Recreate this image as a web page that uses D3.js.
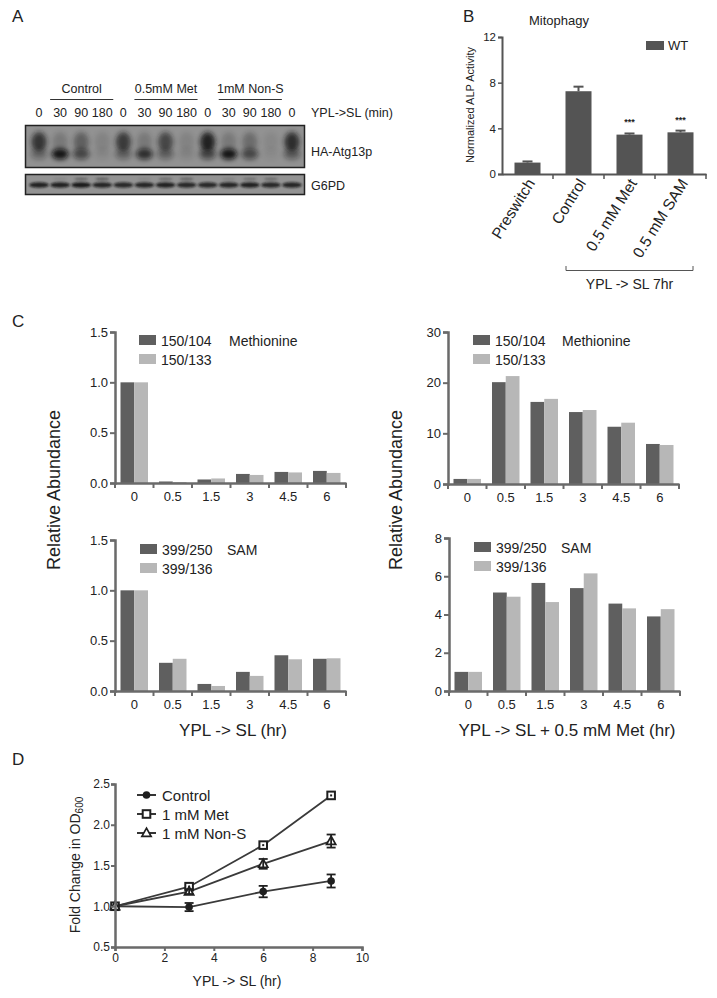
<!DOCTYPE html>
<html><head><meta charset="utf-8">
<script src="https://cdn.jsdelivr.net/npm/d3@7"></script>
<style>
body{margin:0;background:#fff;}
svg{font-family:"Liberation Sans",Arial,Helvetica,sans-serif;}
</style></head>
<body>
<svg id="fig" width="717" height="998"></svg>
<script>
// ---------- DATA ----------
// Panel A (western blot)
const blotGroups = ["Control", "0.5mM Met", "1mM Non-S"];
const blotLanes = ["0","30","90","180","0","30","90","180","0","30","90","180","0"];
const atgUpper = [0.75,0.2,0.4,0.12,0.7,0.2,0.6,0.12,0.9,0.2,0.3,0.08,0.8];
const atgLower = [0.3,0.95,0.55,0.08,0.35,0.75,0.35,0.1,0.55,0.95,0.55,0.05,0.4];
const g6pd = [0.85,0.85,0.9,0.82,0.8,0.82,0.85,0.8,0.8,0.82,0.85,0.8,0.82];
const g6pdUpper = [0,0.1,0.4,0.45,0,0.1,0.35,0.4,0,0.15,0.3,0.35,0];

// Panel B
const mitoCats = ["Preswitch","Control","0.5 mM Met","0.5 mM SAM"];
const mitoVals = [1.0, 7.25, 3.45, 3.65];
const mitoErr = [0.1, 0.4, 0.1, 0.15];
const mitoStars = ["", "", "***", "***"];
const mitoTicks = [0,4,8,12];

// Panel C
const timeCats = ["0","0.5","1.5","3","4.5","6"];
const metSL_104 = [1.0, 0.015, 0.035, 0.09, 0.11, 0.12];
const metSL_133 = [1.0, 0.01, 0.045, 0.08, 0.105, 0.10];
const metMet_104 = [1.0, 20.1, 16.2, 14.2, 11.3, 7.9];
const metMet_133 = [1.0, 21.3, 16.8, 14.6, 12.1, 7.7];
const samSL_250 = [1.0, 0.28, 0.07, 0.19, 0.355, 0.32];
const samSL_136 = [1.0, 0.32, 0.05, 0.15, 0.315, 0.325];
const samMet_250 = [1.0, 5.15, 5.65, 5.38, 4.57, 3.9];
const samMet_136 = [1.0, 4.93, 4.65, 6.15, 4.32, 4.28];

// Panel D
const odTimes = [0, 3, 6, 8.75];
const odControl = [1.0, 0.99, 1.18, 1.31];
const odControlErr = [0.02, 0.05, 0.07, 0.08];
const odMet = [1.0, 1.24, 1.75, 2.36];
const odMetErr = [0.01, 0.02, 0.02, 0.02];
const odNonS = [1.0, 1.18, 1.52, 1.80];
const odNonSErr = [0.01, 0.03, 0.06, 0.08];

// ---------- DRAW ----------
const svg = d3.select("#fig");
const FONT = '"Liberation Sans",Arial,Helvetica,sans-serif';
const dark = "#5f5f5f", light = "#b7b7b7", axisC = "#6a6a6a";

function label(t, x, y){ svg.append("text").attr("x",x).attr("y",y).attr("font-size",17).attr("fill","#222").text(t); }
label("A", 12, 22); label("B", 463, 22); label("C", 12, 327); label("D", 12, 765);

// ===== Panel A =====
const defs = svg.append("defs");
defs.append("filter").attr("id","blur").attr("x","-50%").attr("y","-50%").attr("width","200%").attr("height","200%")
  .append("feGaussianBlur").attr("stdDeviation",2.4);
defs.append("filter").attr("id","blur2").attr("x","-50%").attr("y","-50%").attr("width","200%").attr("height","200%")
  .append("feGaussianBlur").attr("stdDeviation",1.2);
defs.append("clipPath").attr("id","clipA1").append("rect").attr("x",26).attr("y",126).attr("width",278).attr("height",41);
defs.append("clipPath").attr("id","clipA2").append("rect").attr("x",26).attr("y",175).attr("width",278).attr("height",19);

const laneX = d3.scaleBand().domain(d3.range(blotLanes.length)).range([28.5, 302.5]);
const lc = i => laneX(i) + laneX.bandwidth()/2;
const gA = svg.append("g").attr("font-size",12.5).attr("fill","#222");
blotGroups.forEach((g,k)=>{
  const a = lc(1+4*k) - 10, b = lc(3+4*k) + 11;
  gA.append("text").attr("x",(a+b)/2).attr("y",93).attr("text-anchor","middle").text(g);
  gA.append("line").attr("x1",a).attr("x2",b).attr("y1",99.5).attr("y2",99.5).attr("stroke","#333").attr("stroke-width",1);
});
blotLanes.forEach((l,i)=>{
  gA.append("text").attr("x",lc(i)).attr("y",117).attr("text-anchor","middle").text(l);
});
gA.append("text").attr("x",311).attr("y",117).text("YPL->SL (min)");
gA.append("rect").attr("x",25.5).attr("y",125.5).attr("width",279).attr("height",42).attr("fill","#929292");
const b1 = gA.append("g").attr("clip-path","url(#clipA1)");
b1.selectAll(".up").data(atgUpper).join("ellipse")
  .attr("cx",(d,i)=>lc(i)).attr("cy",142).attr("rx",7.5).attr("ry",10)
  .attr("fill","#151515").attr("opacity",d=>d).attr("filter","url(#blur)");
b1.selectAll(".lo").data(atgLower).join("ellipse")
  .attr("cx",(d,i)=>lc(i)).attr("cy",154).attr("rx",8.5).attr("ry",5.5)
  .attr("fill","#0a0a0a").attr("opacity",d=>d).attr("filter","url(#blur)");
gA.append("rect").attr("x",25.5).attr("y",125.5).attr("width",279).attr("height",42).attr("fill","none").attr("stroke","#222").attr("stroke-width",1.5);
gA.append("rect").attr("x",25.5).attr("y",174.5).attr("width",279).attr("height",20).attr("fill","#939393");
const b2 = gA.append("g").attr("clip-path","url(#clipA2)");
b2.selectAll(".g").data(g6pd).join("ellipse")
  .attr("cx",(d,i)=>lc(i)).attr("cy",185).attr("rx",10).attr("ry",2.8)
  .attr("fill","#111").attr("opacity",d=>d).attr("filter","url(#blur2)");
b2.selectAll(".gu").data(g6pdUpper).join("ellipse")
  .attr("cx",(d,i)=>lc(i)).attr("cy",179).attr("rx",7).attr("ry",1.5)
  .attr("fill","#222").attr("opacity",d=>d).attr("filter","url(#blur2)");
gA.append("rect").attr("x",25.5).attr("y",174.5).attr("width",279).attr("height",20).attr("fill","none").attr("stroke","#222").attr("stroke-width",1.5);
gA.append("text").attr("x",311).attr("y",156).text("HA-Atg13p");
gA.append("text").attr("x",311).attr("y",190).text("G6PD");

// ===== Panel B =====
{
  const x = d3.scaleBand().domain(mitoCats).range([502, 706]).paddingInner(0.49).paddingOuter(0.245);
  const y = d3.scaleLinear().domain([0,12]).range([174, 37]);
  const g = svg.append("g");
  g.append("text").attr("x",559).attr("y",25).attr("text-anchor","middle").attr("font-size",13).attr("fill","#222").text("Mitophagy");
  g.selectAll("rect.bar").data(mitoVals).join("rect").attr("class","bar")
    .attr("x",(d,i)=>x(mitoCats[i])).attr("width",x.bandwidth())
    .attr("y",d=>y(d)).attr("height",d=>y(0)-y(d)).attr("fill","#545454");
  mitoVals.forEach((v,i)=>{
    const cx = x(mitoCats[i]) + x.bandwidth()/2;
    g.append("line").attr("x1",cx).attr("x2",cx).attr("y1",y(v)).attr("y2",y(v+mitoErr[i])).attr("stroke","#545454").attr("stroke-width",2);
    g.append("line").attr("x1",cx-5).attr("x2",cx+5).attr("y1",y(v+mitoErr[i])).attr("y2",y(v+mitoErr[i])).attr("stroke","#545454").attr("stroke-width",2);
    if(mitoStars[i]) g.append("text").attr("x",cx).attr("y",y(v+mitoErr[i])-8).attr("text-anchor","middle").attr("font-size",9).attr("font-weight","bold").attr("fill","#222").text(mitoStars[i]);
    g.append("text").attr("transform",`translate(${cx+8},${183}) rotate(-58)`).attr("text-anchor","end")
      .attr("font-size",15.5).attr("fill","#222").text(mitoCats[i]);
  });
  const ya = g.append("g").attr("transform","translate(502,0)")
    .call(d3.axisLeft(y).tickValues(mitoTicks).tickSize(4).tickPadding(2));
  ya.select(".domain").attr("stroke","#555").attr("stroke-width",2);
  ya.selectAll(".tick line").attr("stroke","#555").attr("stroke-width",1.5);
  ya.selectAll("text").attr("font-size",11.5).attr("fill","#222").attr("font-family",FONT);
  const xa = g.append("g").attr("transform","translate(0,174)")
    .call(d3.axisBottom(x).tickSize(0).tickFormat(""));
  xa.select(".domain").attr("stroke","#555").attr("stroke-width",2);
  mitoCats.forEach((c,i)=>{
    const bx = x(c) + x.bandwidth() + x.step()*x.paddingInner()/2;
    g.append("line").attr("x1",bx).attr("x2",bx).attr("y1",174).attr("y2",179).attr("stroke","#555").attr("stroke-width",1.5);
  });
  g.append("text").attr("transform","translate(474,105) rotate(-90)").attr("text-anchor","middle")
    .attr("font-size",11).attr("fill","#222").text("Normalized ALP Activity");
  g.append("rect").attr("x",646).attr("y",41).attr("width",18).attr("height",9).attr("fill","#545454");
  g.append("text").attr("x",668).attr("y",50).attr("font-size",13).attr("fill","#222").text("WT");
  const bx1 = 566, bx2 = 693;
  g.append("path").attr("d",`M${bx1},266V270.5H${bx2}V266`).attr("fill","none").attr("stroke","#555").attr("stroke-width",1);
  g.append("text").attr("x",(bx1+bx2)/2).attr("y",289).attr("text-anchor","middle").attr("font-size",14).attr("fill","#222").text("YPL -> SL 7hr");
}

// ===== Panel C =====
function barChart(opt){
  const x = d3.scaleBand().domain(timeCats).range([opt.x0, opt.x1]);
  const y = d3.scaleLinear().domain([0, opt.ymax]).range([opt.y0, opt.ytop]);
  const g = svg.append("g");
  const inner = d3.scaleBand().domain([0,1]).range([0, x.step()]).paddingOuter(0.4).paddingInner(0);
  [opt.a, opt.b].forEach((arr,k)=>{
    g.selectAll(null).data(arr).join("rect")
      .attr("x",(d,i)=>x(timeCats[i]) + inner(k)).attr("width",inner.bandwidth())
      .attr("y",d=>y(d)).attr("height",d=>y(0)-y(d)).attr("fill",k===0?dark:light);
  });
  const ya = g.append("g").attr("transform",`translate(${opt.x0},0)`)
    .call(d3.axisLeft(y).tickValues(opt.ticks).tickFormat(opt.fmt).tickSize(5).tickPadding(2));
  ya.select(".domain").attr("stroke",axisC).attr("stroke-width",2.5);
  ya.selectAll(".tick line").attr("stroke",axisC).attr("stroke-width",2);
  ya.selectAll("text").attr("font-size",13).attr("fill","#222").attr("font-family",FONT);
  const xa = g.append("g").attr("transform",`translate(0,${opt.y0})`)
    .call(d3.axisBottom(x).tickSize(0).tickPadding(9));
  xa.select(".domain").attr("stroke",axisC).attr("stroke-width",2.5);
  xa.selectAll("text").attr("font-size",13).attr("fill","#222").attr("font-family",FONT);
  d3.range(timeCats.length+1).forEach(i=>{
    const bx = opt.x0 + i*x.step();
    g.append("line").attr("x1",bx).attr("x2",bx).attr("y1",opt.y0).attr("y2",opt.y0+5).attr("stroke",axisC).attr("stroke-width",2);
  });
  const lx = opt.lx, ly = opt.ly;
  [[opt.n1,dark],[opt.n2,light]].forEach((p,k)=>{
    g.append("rect").attr("x",lx).attr("y",ly+k*19-11).attr("width",17).attr("height",10).attr("fill",p[1]);
    g.append("text").attr("x",lx+22).attr("y",ly+k*19).attr("font-size",14).attr("fill","#222").text(p[0]);
  });
  g.append("text").attr("x",opt.tx).attr("y",ly).attr("font-size",14).attr("fill","#222").text(opt.title);
}
const f1 = d3.format(".1f"), f0 = d3.format("d");
barChart({x0:115,x1:346,y0:483,ytop:332,ymax:1.5,ticks:[0,0.5,1,1.5],fmt:f1,a:metSL_104,b:metSL_133,
  lx:139,ly:346,n1:"150/104",n2:"150/133",title:"Methionine",tx:229});
barChart({x0:448,x1:679,y0:484,ytop:332,ymax:30,ticks:[0,10,20,30],fmt:f0,a:metMet_104,b:metMet_133,
  lx:473,ly:346,n1:"150/104",n2:"150/133",title:"Methionine",tx:562});
barChart({x0:115,x1:346,y0:691,ytop:540,ymax:1.5,ticks:[0,0.5,1,1.5],fmt:f1,a:samSL_250,b:samSL_136,
  lx:140,ly:555,n1:"399/250",n2:"399/136",title:"SAM",tx:227});
barChart({x0:449,x1:680,y0:691,ytop:538,ymax:8,ticks:[0,2,4,6,8],fmt:f0,a:samMet_250,b:samMet_136,
  lx:474,ly:553,n1:"399/250",n2:"399/136",title:"SAM",tx:561});
svg.append("text").attr("transform","translate(60,490) rotate(-90)").attr("text-anchor","middle").attr("font-size",18).attr("fill","#222").text("Relative Abundance");
svg.append("text").attr("transform","translate(402,490) rotate(-90)").attr("text-anchor","middle").attr("font-size",18).attr("fill","#222").text("Relative Abundance");
svg.append("text").attr("x",233).attr("y",736).attr("text-anchor","middle").attr("font-size",17).attr("fill","#222").text("YPL -> SL (hr)");
svg.append("text").attr("x",567).attr("y",736).attr("text-anchor","middle").attr("font-size",17).attr("fill","#222").text("YPL -> SL + 0.5 mM Met (hr)");

// ===== Panel D =====
{
  const x = d3.scaleLinear().domain([0,10]).range([115, 362]);
  const y = d3.scaleLinear().domain([0.5,2.5]).range([947, 784]);
  const g = svg.append("g");
  const line = d3.line().x(d=>x(d[0])).y(d=>y(d[1]));
  const ink = "#1f1f1f";
  const series = [
    {name:"Control", v:odControl, e:odControlErr, shape:"circle"},
    {name:"1 mM Met", v:odMet, e:odMetErr, shape:"square"},
    {name:"1 mM Non-S", v:odNonS, e:odNonSErr, shape:"triangle"}
  ];
  function marker(sel, shape, cx, cy){
    if(shape==="circle") sel.append("circle").attr("cx",cx).attr("cy",cy).attr("r",3.8).attr("fill",ink);
    else if(shape==="square") sel.append("rect").attr("x",cx-3.8).attr("y",cy-3.8).attr("width",7.6).attr("height",7.6).attr("fill","#fff").attr("stroke",ink).attr("stroke-width",2);
    else sel.append("path").attr("d",`M${cx},${cy-4.8}L${cx+4.6},${cy+3.4}L${cx-4.6},${cy+3.4}Z`).attr("fill","#fff").attr("stroke",ink).attr("stroke-width",1.7);
  }
  series.forEach(s=>{
    g.append("path").datum(odTimes.map((t,i)=>[t,s.v[i]])).attr("d",line).attr("fill","none").attr("stroke","#3a3a3a").attr("stroke-width",1.8);
  });
  series.forEach(s=>{
    odTimes.forEach((t,i)=>{
      const cx = x(t), lo = y(s.v[i]-s.e[i]), hi = y(s.v[i]+s.e[i]);
      marker(g, s.shape, cx, y(s.v[i]));
      if(s.e[i] > 0.025 && t > 0){
        g.append("line").attr("x1",cx).attr("x2",cx).attr("y1",lo).attr("y2",hi).attr("stroke",ink).attr("stroke-width",1.8);
        [lo,hi].forEach(yy=>g.append("line").attr("x1",cx-4.5).attr("x2",cx+4.5).attr("y1",yy).attr("y2",yy).attr("stroke",ink).attr("stroke-width",1.8));
      } else if(s.shape==="square" && t > 0){
        g.append("rect").attr("x",cx-1).attr("y",y(s.v[i])-1).attr("width",2).attr("height",2).attr("fill",ink);
      }
    });
  });
  const ya = g.append("g").attr("transform","translate(115,0)")
    .call(d3.axisLeft(y).tickValues([0.5,1,1.5,2,2.5]).tickFormat(d3.format(".1f")).tickSize(4).tickPadding(1));
  ya.select(".domain").attr("stroke",axisC).attr("stroke-width",2.5);
  ya.selectAll(".tick line").attr("stroke",axisC).attr("stroke-width",2);
  ya.selectAll("text").attr("font-size",12).attr("fill","#222").attr("font-family",FONT);
  const xa = g.append("g").attr("transform","translate(0,947)")
    .call(d3.axisBottom(x).tickValues([0,2,4,6,8,10]).tickSize(4).tickPadding(2));
  xa.select(".domain").attr("stroke",axisC).attr("stroke-width",2.5);
  xa.selectAll(".tick line").attr("stroke",axisC).attr("stroke-width",2);
  xa.selectAll("text").attr("font-size",12).attr("fill","#222").attr("font-family",FONT);
  series.forEach((s,k)=>{
    const ly = 795 + k*19;
    g.append("line").attr("x1",137).attr("x2",156).attr("y1",ly).attr("y2",ly).attr("stroke",ink).attr("stroke-width",1.8);
    marker(g, s.shape, 146.5, ly);
    g.append("text").attr("x",162).attr("y",ly+5.5).attr("font-size",15).attr("fill","#222").text(s.name);
  });
  const yl = g.append("text").attr("transform","translate(80,865) rotate(-90)").attr("text-anchor","middle").attr("font-size",14).attr("fill","#222");
  yl.append("tspan").text("Fold Change in OD");
  yl.append("tspan").attr("font-size",10).attr("dy",3).text("600");
  g.append("text").attr("x",237).attr("y",986).attr("text-anchor","middle").attr("font-size",14).attr("fill","#222").text("YPL -> SL (hr)");
}
</script>
</body></html>
